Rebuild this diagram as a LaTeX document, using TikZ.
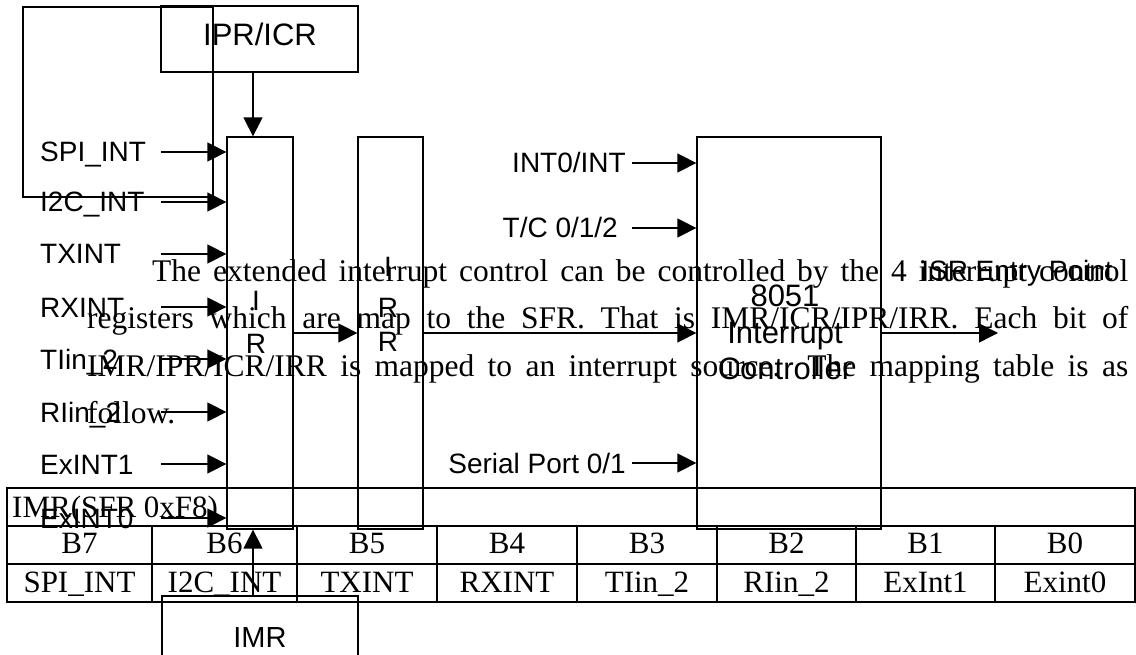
\documentclass[tikz,border=0pt]{standalone}
\usepackage{fontspec}
\setmainfont{Liberation Serif}
\newfontfamily\lsans{Liberation Sans}
\usetikzlibrary{arrows.meta}
\begin{document}
\begin{tikzpicture}[x=1pt,y=-1pt,
  lab/.style={font=\lsans\fontsize{28}{30}\selectfont, inner sep=0pt, anchor=base west},
  rlab/.style={font=\lsans\fontsize{28}{30}\selectfont, inner sep=0pt, anchor=base east},
  clab/.style={font=\lsans\fontsize{28}{30}\selectfont, inner sep=0pt, anchor=base},
  blab/.style={font=\lsans\fontsize{31}{33}\selectfont, inner sep=0pt, anchor=base},
  ser/.style={font=\fontsize{31.5}{36}\selectfont, inner sep=0pt, anchor=base west},
  tcell/.style={font=\fontsize{31}{36}\selectfont, inner sep=0pt, anchor=base},
  blk/.style={draw, line width=1.3pt, inner sep=0pt},
  arr/.style={line width=1.5pt, -{Triangle[length=19pt,width=19pt]}},
  tline/.style={line width=2pt},
]
\useasboundingbox (0,0) rectangle (1136,655);

% large outline at top left
\draw[tline] (23,7) rectangle (213,197);

% blocks
\node[blk, minimum width=197pt, minimum height=66pt] (ipr) at (259.5,39) {};
\node[blab] (iprtext) at (260,46) {IPR/ICR};
\node[blk, minimum width=66pt, minimum height=392pt] (ir1) at (260,333) {};
\node[blk, minimum width=65pt, minimum height=392pt] (ir2) at (390.5,333) {};
\node[blk, minimum width=184pt, minimum height=392pt] (ctrl) at (789,333) {};
\node[blk, minimum width=196pt, minimum height=82pt, font=\lsans\fontsize{29}{30}\selectfont, text height=21pt, text depth=0pt] (imr) at (260,637) {IMR};

% letters inside the blocks
\node[clab] (ir1i) at (256,310) {I};
\node[clab] (ir1r) at (256,353) {R};
\node[clab] (ir2i) at (388,277) {I};
\node[clab] (ir2r) at (388,317) {R};
\node[clab] (ir2rr) at (388,352) {R};
\node[blab] (c1) at (785,307) {8051};
\node[blab] (c2) at (785,343) {Interrupt};
\node[blab] (c3) at (785,379) {Controller};

% left inputs
\foreach \n/\t/\y in {a/SPI\_INT/152, b/I2C\_INT/202, c/TXINT/254, d/RXINT/307, e/TIin\_2/359, f/RIin\_2/412, g/ExINT1/464, h/ExINT0/518}{
  \node[lab] (in\n) at (40,\y+10) {\t};
  \coordinate (s\n) at (161,\y);
  \draw[arr] (s\n) -- (s\n -| ir1.west);
}

% controller inputs
\node[rlab] (int0) at (626,173) {INT0/INT};
\coordinate (sint0) at (632,163);
\draw[arr] (sint0) -- (sint0 -| ctrl.west);
\node[rlab] (tc) at (618,238) {T/C 0/1/2};
\coordinate (stc) at (632,228);
\draw[arr] (stc) -- (stc -| ctrl.west);
\node[rlab] (sp) at (626,473) {Serial Port 0/1};
\coordinate (ssp) at (632,463);
\draw[arr] (ssp) -- (ssp -| ctrl.west);

% chain
\draw[arr] (253,0 |- ipr.south) -- (253,0 |- ir1.north);
\draw[arr] (ir1.east) -- (ir2.west);
\draw[arr] (ir2.east) -- (ctrl.west);
\coordinate (isr) at (998,333);
\draw[arr] (ctrl.east) -- (isr);
\node[clab] (isrtext) at (1017,281) {ISR Entry Point};
\draw[arr] (253,0 |- imr.north) -- (253,0 |- ir1.south);

% paragraph
\node[ser] (p1) at (152,282) {\makebox[976pt][s]{The extended interrupt control can be controlled by the 4 interrupt control}};
\node[ser] (p2) at (87,329) {\makebox[1041pt][s]{registers which are map to the SFR. That is IMR/ICR/IPR/IRR. Each bit of}};
\node[ser] (p3) at (87,376) {\makebox[1041pt][s]{IMR/IPR/ICR/IRR is mapped to an interrupt source. The mapping table is as}};
\node[ser] (p4) at (87,423) {follow.};

% table
\draw[tline] (7,488) rectangle (1135,602);
\draw[tline] (7,526) -- (1135,526) (7,564) -- (1135,564);
\foreach \x in {152,297,437,577,717,856,995}{
  \draw[tline] (\x,526) -- (\x,602);
}
\node[tcell, anchor=base west] (thead) at (12,517) {IMR(SFR 0xF8)};
\foreach \n/\x/\b/\s in {7/79.5/B7/SPI\_INT, 6/224.5/B6/I2C\_INT, 5/367/B5/TXINT, 4/507/B4/RXINT, 3/647/B3/TIin\_2, 2/786.5/B2/RIin\_2, 1/925.5/B1/ExInt1, 0/1065/B0/Exint0}{
  \node[tcell] (tb\n) at (\x,553) {\b};
  \node[tcell] (tn\n) at (\x,592) {\s};
}
\end{tikzpicture}
\end{document}
